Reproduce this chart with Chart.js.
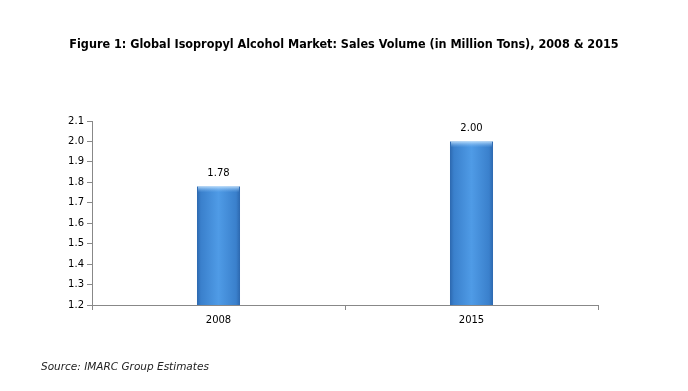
<!DOCTYPE html>
<html>
<head>
<meta charset="utf-8">
<script src="https://cdn.jsdelivr.net/npm/chart.js@4"></script>
<style>
  html, body { margin: 0; padding: 0; background: #fff; }
  #wrap { width: 688px; height: 391px; position: relative; }
</style>
</head>
<body>
<div id="wrap"><canvas id="chart"></canvas></div>
<script>
const years = ["2008", "2015"];
const salesVolume = [1.78, 2.00];
const yTicks = [1.2, 1.3, 1.4, 1.5, 1.6, 1.7, 1.8, 1.9, 2.0, 2.1];

const titleText = "Figure 1: Global Isopropyl Alcohol Market: Sales Volume (in Million Tons), 2008 & 2015";
const sourceText = "Source: IMARC Group Estimates";

// bar fill: horizontal gradient, darker at the edges
function barFill(context) {
  const chart = context.chart;
  if (!chart.chartArea) return "#3f86d3";
  const x = chart.scales.x.getPixelForValue(context.dataIndex);
  const half = 22;
  const g = chart.ctx.createLinearGradient(x - half, 0, x + half, 0);
  g.addColorStop(0, "#2b65ab");
  g.addColorStop(0.1, "#3a80cc");
  g.addColorStop(0.5, "#4f9be6");
  g.addColorStop(0.9, "#3a80cc");
  g.addColorStop(1, "#2b65ab");
  return g;
}

// small bevel on top of each bar, darker shade at the bottom
const bevelPlugin = {
  id: "bevel",
  afterDatasetsDraw(chart) {
    const ctx = chart.ctx;
    const meta = chart.getDatasetMeta(0);
    ctx.save();
    meta.data.forEach((bar) => {
      const left = bar.x - bar.width / 2;
      const top = bar.y;
      const g = ctx.createLinearGradient(0, top, 0, top + 6);
      g.addColorStop(0, "rgba(200,230,255,0.85)");
      g.addColorStop(1, "rgba(120,180,240,0)");
      ctx.fillStyle = g;
      ctx.fillRect(left + 1, top, bar.width - 2, 6);
      const b = ctx.createLinearGradient(0, bar.base - 8, 0, bar.base);
      b.addColorStop(0, "rgba(30,70,130,0)");
      b.addColorStop(1, "rgba(30,70,130,0.35)");
      ctx.fillStyle = b;
      ctx.fillRect(left, bar.base - 8, bar.width, 8);
    });
    ctx.restore();
  }
};

const textPlugin = {
  id: "texts",
  afterDraw(chart) {
    const ctx = chart.ctx;
    ctx.save();
    ctx.fillStyle = "#000";
    ctx.textBaseline = "middle";
    ctx.textAlign = "center";
    ctx.font = "bold 12.5px 'DejaVu Sans Condensed'";
    ctx.fillText(titleText, 344, 45);

    ctx.textAlign = "left";
    ctx.font = "italic 10.5px 'DejaVu Sans'";
    ctx.fillStyle = "#222";
    ctx.fillText(sourceText, 41, 367);

    // value labels above the bars
    ctx.textAlign = "center";
    ctx.font = "10px 'DejaVu Sans'";
    ctx.fillStyle = "#000";
    const meta = chart.getDatasetMeta(0);
    meta.data.forEach((bar, i) => {
      ctx.fillText(salesVolume[i].toFixed(2), bar.x, bar.y - 13);
    });
    ctx.restore();
  }
};

new Chart(document.getElementById("chart"), {
  type: "bar",
  data: {
    labels: years,
    datasets: [{
      data: salesVolume,
      backgroundColor: barFill,
      borderWidth: 0,
      barPercentage: 0.17,
      categoryPercentage: 1
    }]
  },
  options: {
    responsive: true,
    maintainAspectRatio: false,
    animation: false,
    layout: { padding: { left: 0, right: 90, top: 121, bottom: 0 } },
    plugins: {
      legend: { display: false },
      tooltip: { enabled: false }
    },
    scales: {
      x: {
        offset: true,
        grid: {
          offset: true,
          drawOnChartArea: false,
          drawTicks: true,
          tickLength: 5,
          color: "#888"
        },
        border: { color: "#888", width: 1 },
        ticks: {
          color: "#000",
          font: { family: "DejaVu Sans", size: 10 },
          padding: 4
        },
        afterFit(scale) { scale.height = 86; }
      },
      y: {
        min: 1.2,
        max: 2.1,
        afterBuildTicks(scale) {
          scale.ticks = yTicks.map(v => ({ value: v }));
        },
        grid: {
          drawOnChartArea: false,
          drawTicks: true,
          tickLength: 5,
          color: "#888"
        },
        border: { color: "#888", width: 1 },
        ticks: {
          color: "#000",
          font: { family: "DejaVu Sans", size: 10 },
          padding: 3,
          callback: (v) => Number(v).toFixed(1)
        },
        afterFit(scale) { scale.width = 92; }
      }
    }
  },
  plugins: [bevelPlugin, textPlugin]
});
</script>
</body>
</html>
